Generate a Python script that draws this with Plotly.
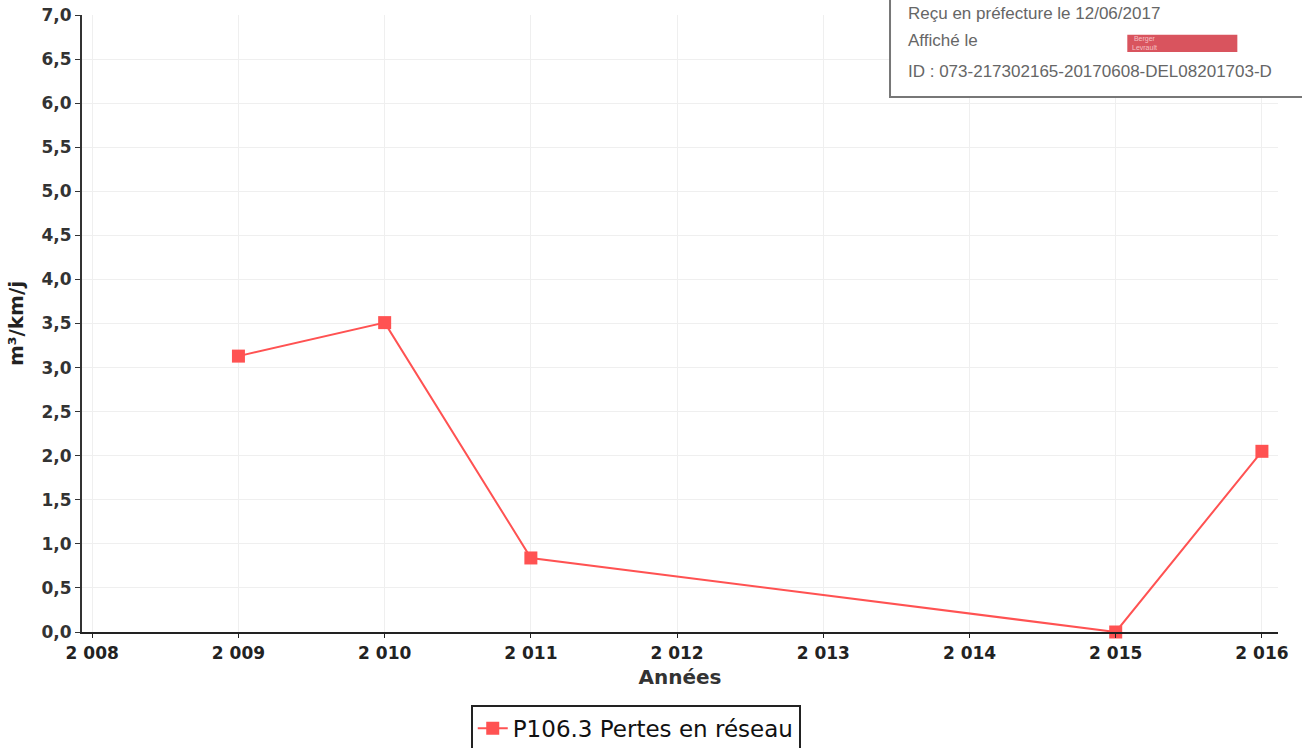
import plotly.graph_objects as go

years = [2009, 2010, 2011, 2015, 2016]
values = [3.13, 3.51, 0.84, 0.0, 2.05]
series_name = "P106.3 Pertes en réseau"
x_ticks = [2008, 2009, 2010, 2011, 2012, 2013, 2014, 2015, 2016]
x_ticktext = ["2 008", "2 009", "2 010", "2 011", "2 012", "2 013", "2 014", "2 015", "2 016"]
y_ticks = [0, 0.5, 1, 1.5, 2, 2.5, 3, 3.5, 4, 4.5, 5, 5.5, 6, 6.5, 7]
y_ticktext = ["0,0", "0,5", "1,0", "1,5", "2,0", "2,5", "3,0", "3,5", "4,0", "4,5", "5,0", "5,5", "6,0", "6,5", "7,0"]

red = "#ff5252"
fig = go.Figure()
fig.add_trace(go.Scatter(
    x=years, y=values, mode="lines+markers", name=series_name,
    line=dict(color=red, width=2),
    marker=dict(symbol="square", size=13, color=red),
    cliponaxis=False,
))

font_main = "DejaVu Sans"
fig.update_layout(
    width=1302, height=748,
    margin=dict(l=82, r=24, t=15, b=116, autoexpand=False),
    paper_bgcolor="white", plot_bgcolor="white",
    font=dict(family=font_main, color="#333333"),
    showlegend=True,
    legend=dict(
        orientation="h", x=0.463, xanchor="center", y=-0.118, yanchor="top",
        bordercolor="#222222", borderwidth=2,
        font=dict(family=font_main, size=23, color="#111111"),
    ),
    xaxis=dict(
        range=[2007.93, 2016.11], tickvals=x_ticks, ticktext=x_ticktext,
        tickfont=dict(family=font_main, size=17, color="#222222", weight="bold"),
        showline=True, linecolor="#222222", linewidth=2,
        ticks="outside", ticklen=4, tickcolor="#222222", ticklabelstandoff=1,
        showgrid=True, gridcolor="#efefef", zeroline=False,
        title=dict(text="Années", font=dict(family=font_main, size=20, color="#333333", weight="bold"), standoff=8),
    ),
    yaxis=dict(
        range=[0, 7], tickvals=y_ticks, ticktext=y_ticktext,
        tickfont=dict(family=font_main, size=17, color="#333333", weight="bold"),
        showline=True, linecolor="#333333", linewidth=2,
        ticks="outside", ticklen=5, tickcolor="#333333",
        showgrid=True, gridcolor="#efefef", zeroline=False,
        title=dict(text="m³/km/j", font=dict(family=font_main, size=20, color="#222222", weight="bold"), standoff=12),
    ),
)

# stamp box top-right
fig.add_shape(type="rect", xref="paper", yref="paper",
              x0=0.6756, x1=1.03, y0=0.867, y1=1.03,
              line=dict(color="#777777", width=2), fillcolor="white", layer="above")
fig.add_shape(type="rect", xref="paper", yref="paper",
              x0=0.874, x1=0.966, y0=0.940, y1=0.968,
              line=dict(width=0), fillcolor="#d9545e", layer="above")
stamp = [("Reçu en préfecture le 12/06/2017", 1.003),
         ("Affiché le", 0.958),
         ("ID : 073-217302165-20170608-DEL08201703-D", 0.909)]
for txt, yy in stamp:
    fig.add_annotation(text=txt, xref="paper", yref="paper", x=0.689, y=yy,
                       xanchor="left", yanchor="middle", showarrow=False,
                       font=dict(family="Liberation Sans", size=17, color="#666666"))
fig.add_annotation(text="Berger<br>Levrault", xref="paper", yref="paper", x=0.876, y=0.954,
                   xanchor="left", yanchor="middle", showarrow=False,
                   font=dict(family="Liberation Sans", size=7, color="#f5c0c4"))

fig.write_html("out.html", config={"displayModeBar": False},
               post_script="document.body.style.margin='0';")
